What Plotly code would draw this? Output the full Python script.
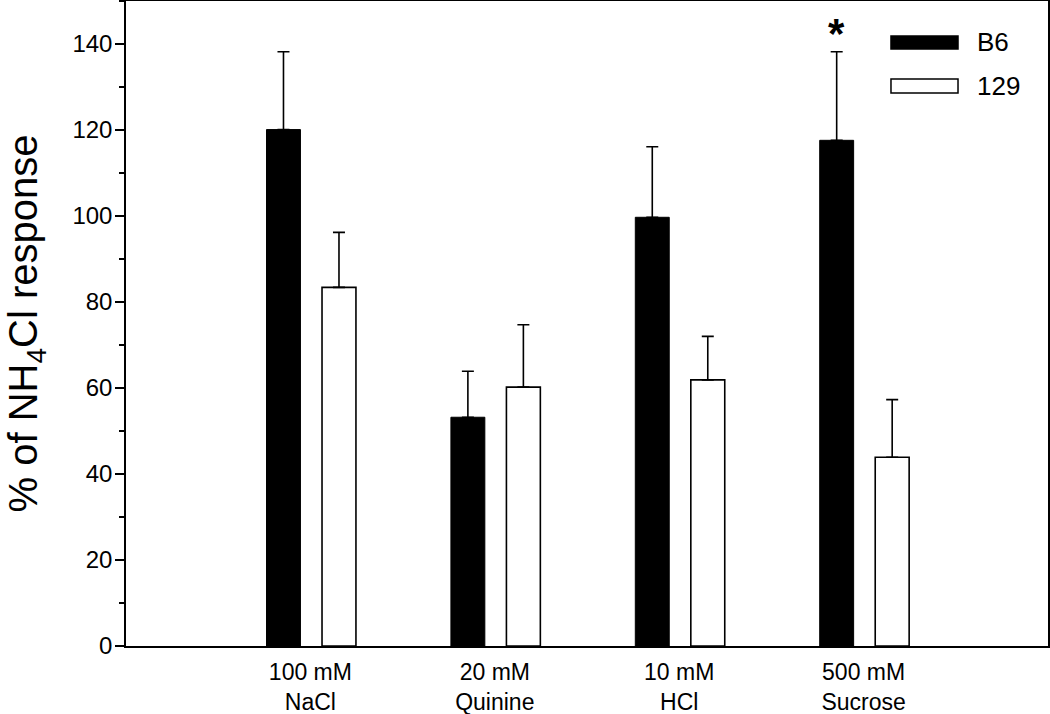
import plotly.graph_objects as go

categories = ["100 mM<br>NaCl", "20 mM<br>Quinine", "10 mM<br>HCl", "500 mM<br>Sucrose"]
b6_values = [120.1, 53.2, 99.7, 117.6]
b6_errors = [18.1, 10.7, 16.4, 20.6]
s129_values = [83.4, 60.2, 61.9, 43.9]
s129_errors = [12.8, 14.5, 10.1, 13.4]
y_ticks = [0, 20, 40, 60, 80, 100, 120, 140]
significant = [False, False, False, True]

FONT = "Arial, 'Liberation Sans', sans-serif"
positions = list(range(len(categories)))
BAR_W = 0.184
B6_OFF = -0.238
S129_OFF = 0.063

fig = go.Figure()
fig.add_trace(go.Bar(
    x=positions, y=b6_values, name="B6",
    width=BAR_W, offset=B6_OFF,
    marker=dict(color="black", line=dict(color="black", width=1)),
    error_y=dict(type="data", array=b6_errors, arrayminus=[0] * 4, symmetric=False,
                 color="black", thickness=1.6, width=6),
    showlegend=False,
))
fig.add_trace(go.Bar(
    x=positions, y=s129_values, name="129",
    width=BAR_W, offset=S129_OFF,
    marker=dict(color="white", line=dict(color="black", width=1.6)),
    error_y=dict(type="data", array=s129_errors, arrayminus=[0] * 4, symmetric=False,
                 color="black", thickness=1.6, width=6),
    showlegend=False,
))

# significance asterisks
for i, sig in enumerate(significant):
    if sig:
        fig.add_annotation(
            x=i + B6_OFF + BAR_W / 2, y=b6_values[i] + b6_errors[i],
            text="<b>*</b>", showarrow=False, xanchor="center", yanchor="bottom",
            yshift=-7, font=dict(family=FONT, size=42, color="black"),
        )

# custom legend (wide bar swatches like the original)
legend_items = [("B6", "black", 0.9457, 0.9256, 0.9364),
                ("129", "white", 0.8791, 0.8574, 0.8682)]
for label, fill, y1, y0, ytxt in legend_items:
    fig.add_shape(type="rect", xref="paper", yref="paper",
                  x0=0.8297, x1=0.9024, y0=y0, y1=y1,
                  fillcolor=fill, line=dict(color="black", width=1.5))
    fig.add_annotation(xref="paper", yref="paper", x=0.9208, y=ytxt,
                       text=label, showarrow=False, xanchor="left", yanchor="middle",
                       font=dict(family=FONT, size=26, color="black"))

# y-axis title
fig.add_annotation(xref="paper", yref="paper", x=-0.1085, y=0.5,
                   text="% of NH<sub>4</sub>Cl response", textangle=-90,
                   showarrow=False, xanchor="center", yanchor="middle",
                   font=dict(family=FONT, size=40, color="black"))

fig.update_layout(
    width=1050, height=714,
    margin=dict(l=126, r=2, t=1, b=68, autoexpand=False),
    plot_bgcolor="white", paper_bgcolor="white",
    barmode="overlay",
    font=dict(family=FONT, color="black"),
    xaxis=dict(
        range=[-1, 4], tickvals=positions, ticktext=categories,
        showline=True, linecolor="black", linewidth=1.5, mirror=True,
        ticks="", showgrid=False, zeroline=False, automargin=False,
        tickfont=dict(family=FONT, size=23, color="black"),
        ticklabelstandoff=5,
    ),
    yaxis=dict(
        range=[0, 150], tickvals=y_ticks,
        showline=True, linecolor="black", linewidth=1.5, mirror=True,
        ticks="outside", ticklen=9, tickwidth=1.5, tickcolor="black",
        minor=dict(ticks="outside", ticklen=5, tickwidth=1.5, tickcolor="black",
                   dtick=10, tick0=10, showgrid=False),
        showgrid=False, zeroline=False, automargin=False,
        tickfont=dict(family=FONT, size=24, color="black"),
        ticklabelstandoff=-2,
    ),
)

fig.write_html(
    "out.html",
    config={"displayModeBar": False},
    post_script="document.body.style.margin='0';document.body.style.overflow='hidden';",
)
